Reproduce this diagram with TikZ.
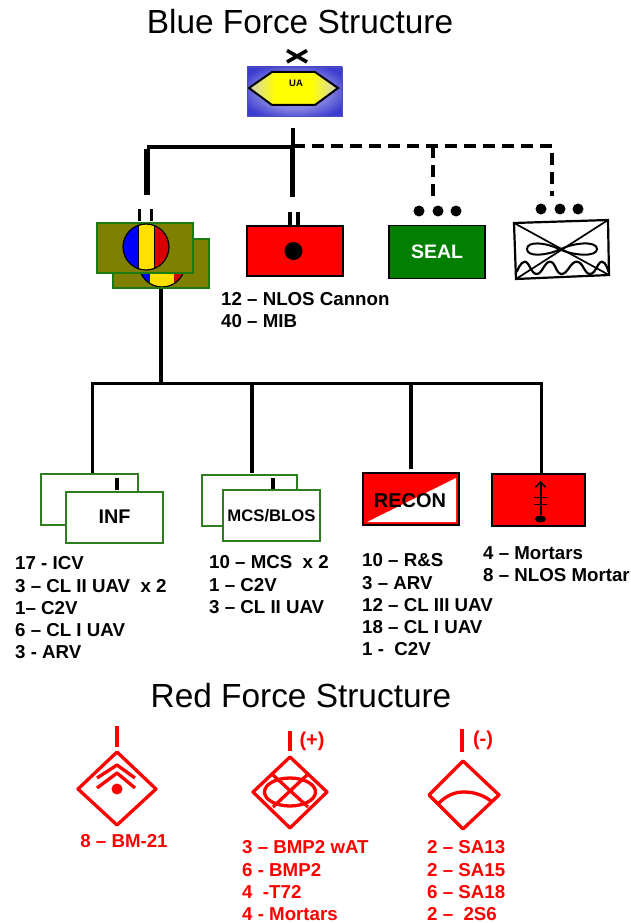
\documentclass[tikz,border=0pt]{standalone}
\usepackage{fontspec}
\setmainfont{Liberation Sans}
\usetikzlibrary{arrows.meta,shapes.geometric}
\definecolor{olv}{HTML}{808000}
\definecolor{frameg}{HTML}{2E7D1E}
\definecolor{oliveframe}{HTML}{1B7A12}
\definecolor{sealg}{HTML}{007F00}
\definecolor{uablue}{HTML}{3C3CD0}
\definecolor{redt}{HTML}{FF0000}
\definecolor{flagb}{HTML}{0000FF}
\definecolor{flagy}{HTML}{FFE000}
\definecolor{flagr}{HTML}{D80000}
\definecolor{uapale}{HTML}{D8D8A8}
\pgfdeclarehorizontalshading{uahex}{100bp}{color(0bp)=(uablue!55!white); color(27bp)=(uapale); color(40bp)=(yellow); color(60bp)=(yellow); color(73bp)=(uapale); color(100bp)=(uablue!55!white)}
\pgfdeclareradialshading{uaout}{\pgfpoint{0bp}{0bp}}{color(0bp)=(uablue!50!white); color(18bp)=(uablue!65!white); color(30bp)=(uablue); color(50bp)=(uablue)}
\tikzset{
  x=1pt,y=-1pt,
  bx/.style={rectangle,inner sep=0pt,outer sep=0pt,draw=black,line width=1.8pt,minimum width=#1},
  wbox/.style={rectangle,inner sep=0pt,outer sep=0pt,draw=frameg,line width=2pt,fill=white,minimum width=#1,minimum height=51pt},
  olbox/.style={rectangle,inner sep=0pt,outer sep=0pt,draw=oliveframe,line width=1.6pt,fill=olv,minimum width=96pt,minimum height=50pt},
  title/.style={font=\fontsize{33.4}{38}\selectfont,inner sep=0pt},
  lbl/.style={font=\fontsize{18.7}{22.3}\selectfont\bfseries,inner sep=0pt,align=left,anchor=north west},
  redlbl/.style={lbl,text=redt,align=center,anchor=north},
  solid5/.style={line width=#1,line cap=butt,draw=black},
  dash4/.style={line width=3.2pt,draw=black,dash pattern=on 12pt off 7pt},
  redln/.style={draw=redt,line width=3.3pt,line join=round},
  dot/.style={circle,fill=black,inner sep=0pt,minimum size=#1},
}
\begin{document}
\begin{tikzpicture}
\useasboundingbox (0,0) rectangle (631,923);
% titles
\node[title] (t1) at (300,22) {Blue Force Structure};
\node[title] (t2) at (301,696) {Red Force Structure};
% UA
\node[rectangle,inner sep=0pt,outer sep=0pt,minimum width=95pt,minimum height=49pt,shading=uaout,draw=uablue!70!gray,line width=.8pt] (ua) at (294.5,91.5) {};
\shade[shading=uahex] (249,88) -- (272,72) -- (315,72) -- (338,88) -- (315,105) -- (272,105) -- cycle;
\draw[line width=2pt,line join=miter] (249,88) -- (272,72) -- (315,72) -- (338,88) -- (315,105) -- (272,105) -- cycle;
\node[font=\fontsize{9.5}{10}\selectfont\bfseries,inner sep=0pt] (ualbl) at (296,83) {UA};
\draw[line width=3.6pt] (287,50.5) -- (307,62) (287,62) -- (307,50.5);
% olive stack
\node[olbox] (oback) at (161,263.5) {};
\begin{scope}
\clip (113,239) rectangle (209,288);
\begin{scope}\clip (162,264) circle[radius=23];
\fill[flagb] (139,240) rectangle (150,288);\fill[flagy] (150,240) rectangle (174,288);\fill[flagr] (174,240) rectangle (186,288);\end{scope}
\draw[line width=1.2pt] (162,264) circle[radius=23];
\end{scope}
\draw[oliveframe,line width=1.6pt] (113,239) rectangle (209,288);
\node[olbox] (ofront) at (145,248) {};
\begin{scope}
\clip (146,247) circle[radius=23];
\fill[flagb] (120,220) rectangle (138,272);
\fill[flagy] (138,220) rectangle (154,272);
\fill[flagr] (154,220) rectangle (172,272);
\draw[line width=.8pt] (138,220) -- (138,272) (154,220) -- (154,272);
\end{scope}
\draw[line width=1.2pt] (146,247) circle[radius=23];
\draw[line width=3pt] (139,209) -- (139,221) (151,209) -- (151,221);
% red cannon
\node[bx=96pt,minimum height=50pt,fill=redt] (cannon) at (295,251) {};
\node[dot=18pt] (cdot) at (293.5,251) {};
\draw[line width=3.5pt] (290,212) -- (290,224.5) (298,212) -- (298,224.5);
% seal
\node[bx=96pt,minimum height=53pt,fill=sealg,text=white,font=\fontsize{19.5}{22}\selectfont\bfseries] (seal) at (437,252) {SEAL};
\node[dot=11pt] (s1) at (419,211) {};
\node[dot=11pt] (s2) at (438,211) {};
\node[dot=11pt] (s3) at (456,211) {};
% wave box
\coordinate (wa) at (514,223);
\coordinate (wb) at (608,220);
\coordinate (wc) at (609,275);
\coordinate (wd) at (516,279);
\draw[line width=2.2pt,fill=white] (wa) -- (wb) -- (wc) -- (wd) -- cycle;
\draw[line width=1.7pt] (wa) -- (wc) (wb) -- (wd);
\draw[line width=2pt] (560,249.5) .. controls (545,242) and (527,241) .. (527,249) .. controls (527,257) and (545,256) .. (560,249.5)
  .. controls (575,242) and (597,241) .. (597,249) .. controls (597,257) and (575,256) .. (560,249.5);
\draw[line width=2.2pt] plot[smooth,tension=.8] coordinates {(516.7,272)(525,261.7)(536.7,274)(550,261.7)(561.7,274)(576.7,261.7)(590,274)(601.7,261.7)(608.5,271.7)};
\node[dot=11pt] (w1) at (541,209) {};
\node[dot=11pt] (w2) at (560,209) {};
\node[dot=11pt] (w3) at (578,209) {};
% top connectors
\coordinate (uabot) at (292.5,128);
\coordinate (junc) at (292.5,147);
\coordinate (c1) at (147,147);
\coordinate (c1e) at (147,195);
\coordinate (c2e) at (292.5,197);
\coordinate (d3) at (433,146);
\coordinate (d3e) at (433,196);
\coordinate (d4) at (552,146);
\coordinate (d4e) at (552,196);
\draw[solid5=4pt] (uabot) -- (junc);
\draw[solid5=5.5pt] (junc) -- (c2e);
\draw[solid5=3.6pt] (junc) -- (c1);
\draw[solid5=5.5pt] ([yshift=-1.8pt]c1) -- (c1e);
\draw[dash4] (junc |- d4) -- (d4) -- (d4e);
\draw[dash4] (d3) -- (d3e);
% lower bus
\coordinate (bus0) at (161,288);
\coordinate (busj) at (161,382);
\coordinate (b1) at (92,383);
\coordinate (b2) at (252,383);
\coordinate (b3) at (411,383);
\coordinate (b4) at (541,383);
\coordinate (b1e) at (92,473);
\coordinate (b2e) at (252,473);
\coordinate (b3e) at (411,469);
\coordinate (b4e) at (541,474);
\draw[solid5=3.5pt] (oback.south -| bus0) -- (busj);
\draw[black,line width=3pt,line join=miter] (b1e) -- (b1) -- (b4) -- (b4e);
\draw[solid5=3.5pt] (b2) -- (b2e);
\draw[solid5=3.5pt] (b3) -- (b3e);
% INF
\node[wbox=97pt] (infb) at (89.5,499.5) {};
\draw[line width=3.5pt] (117,478) -- (117,490);
\node[wbox=97pt,font=\fontsize{19.8}{22}\selectfont\bfseries] (inf) at (114.5,517) {INF};
% MCS
\node[wbox=95pt] (mcsb) at (249.5,500) {};
\draw[line width=3.5pt] (273,478) -- (273,490);
\node[wbox=97pt,font=\fontsize{16.7}{20}\selectfont\bfseries] (mcs) at (271.5,515.5) {MCS/BLOS};
% RECON
\node[bx=96pt,minimum height=52pt,fill=redt] (recon) at (411,499) {};
\fill[white] (367,522) -- (456,478) -- (456,522) -- cycle;
\node[font=\fontsize{20}{22}\selectfont\bfseries,inner sep=0pt] (reconl) at (410,501) {RECON};
% mortar
\node[bx=93pt,minimum height=52pt,fill=redt] (mort) at (538.5,500) {};
\node[ellipse,fill=black,inner sep=0pt,minimum width=11pt,minimum height=7pt] (mo) at (540.5,519) {};
\coordinate (mt) at (540.5,481);
\draw[line width=2pt,-{Straight Barb[length=5pt,width=10pt,line width=1.6pt]}] (mo) -- (mt);
\draw[line width=1pt] (534,497) -- (547,497) (534,504) -- (547,504);
% labels
\node[lbl] (lc) at (221,292) {12 – NLOS Cannon\\40 – MIB};
\node[lbl] (l1) at (15,556.5) {17 - ICV\\3 – CL II UAV\ \ x 2\\1– C2V\\6 – CL I UAV\\3 - ARV};
\node[lbl] (l2) at (209,555.5) {10 – MCS\ \ x 2\\1 – C2V\\3 – CL II UAV};
\node[lbl] (l3) at (362,553.5) {10 – R\&S\\3 – ARV\\12 – CL III UAV\\18 – CL I UAV\\1 -\ \ C2V};
\node[lbl] (l4) at (483,546.5) {4 – Mortars\\8 – NLOS Mortar};
% red 1
\draw[redln] (117,752) -- (156,789) -- (117,825) -- (78,789) -- cycle;
\draw[redln] (117,726) -- (117,747);
\draw[redln] (97,778) -- (117,765) -- (135,778);
\draw[redln] (97,788) -- (117,773) -- (135,788);
\node[circle,fill=redt,inner sep=0pt,minimum size=11pt] (rd) at (117,789) {};
\node[redlbl] (r1) at (124,834.5) {8 – BM-21};
% red 2
\draw[redln] (290,757) -- (327,792) -- (290,828) -- (253,792) -- cycle;
\draw[redln] (290,731) -- (290,751);
\node[font=\fontsize{20}{22}\selectfont\bfseries,text=redt,inner sep=0pt] (rp) at (312,741) {(+)};
\draw[redln] (290,792) ellipse[x radius=25.5,y radius=14];
\draw[redln] (273,775) -- (308,807) (307,775) -- (273,807);
\node[lbl,text=redt] (r2) at (242,840.5) {3 – BMP2 wAT\\6 - BMP2\\4\ \ -T72\\4 - Mortars};
% red 3
\draw[redln] (463,761) -- (499,795) -- (463,829) -- (429,795) -- cycle;
\draw[redln] (462,729) -- (462,752);
\node[font=\fontsize{20}{22}\selectfont\bfseries,text=redt,inner sep=0pt] (rm) at (483,740) {(-)};
\draw[redln] (439,803) .. controls (447,795) and (455,792) .. (464,792) .. controls (474,792) and (483,795) .. (491,801);
\node[lbl,text=redt] (r3) at (427,840.5) {2 – SA13\\2 – SA15\\6 – SA18\\2 –\ \ 2S6};
\end{tikzpicture}
\end{document}
